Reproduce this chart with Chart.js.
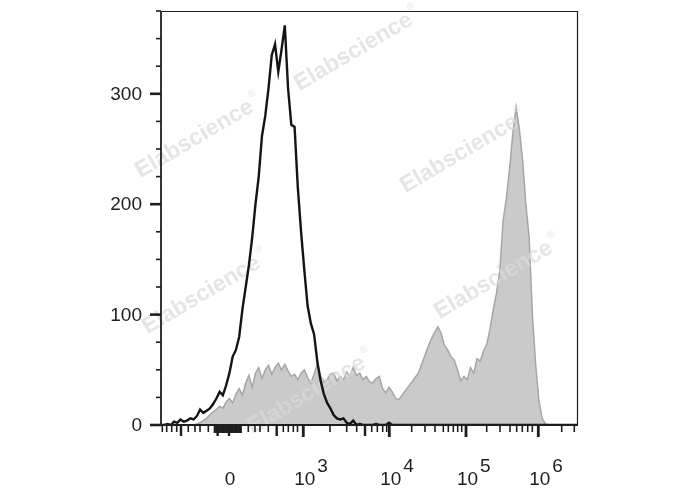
<!DOCTYPE html>
<html>
<head>
<meta charset="utf-8">
<script src="https://cdn.jsdelivr.net/npm/chart.js@4/dist/chart.umd.min.js"></script>
<style>
  body { margin: 0; background: #fff; }
  canvas { display: block; }
</style>
</head>
<body>
<canvas id="histChart" width="688" height="490"></canvas>
<script>
// histogram bins (display channels, 8 channels per bin)
const channels = [
  0, 8, 16, 24, 32, 40, 48, 56, 64, 72, 80, 88, 96, 104, 112, 120,
  128, 136, 144, 152, 160, 168, 176, 184, 192, 200, 208, 216, 224, 232, 240, 248,
  256, 264, 272, 280, 288, 296, 304, 312, 320, 328, 336, 344, 352, 360, 368, 376,
  384, 392, 400, 408, 416, 424, 432, 440, 448, 456, 464, 472, 480, 488, 496, 504,
  512, 520, 528, 536, 544, 552, 560, 568, 576, 584, 592, 600, 608, 616, 624, 632,
  640, 648, 656, 664, 672, 680, 688, 696, 704, 712, 720, 728, 736, 744, 752, 760,
  768, 776, 784, 792, 800, 808, 816, 824, 832, 840, 848, 856, 864, 872, 880, 888,
  896, 904, 912, 920, 928, 936, 944, 952, 960, 968, 976, 984, 992, 1000, 1008, 1016,
  1024
];

// isotype control (black outline)
const isotypeCounts = [
  0, 0, 1, 0, 3, 2, 5, 3, 4, 6,
  5, 8, 14, 11, 13, 15, 19, 24, 30, 27,
  36, 47, 62, 68, 80, 105, 125, 145, 170, 200,
  225, 262, 280, 305, 335, 345, 320, 340, 362, 305,
  272, 270, 215, 175, 140, 108, 92, 82, 57, 40,
  28, 20, 15, 9, 6, 5, 6, 2, 1, 4,
  0, 1, 0, 0, 0, 0, 1, 0, 0, 0,
  2, 0, 0, 0, 0, 0, 0, 0, 0, 0,
  0, 0, 0, 0, 0, 0, 0, 0, 0, 0,
  0, 0, 0, 0, 0, 0, 0, 0, 0, 0,
  0, 0, 0, 0, 0, 0, 0, 0, 0, 0,
  0, 0, 0, 0, 0, 0, 0, 0, 0, 0,
  0, 0, 0, 0, 0, 0, 0, 0, 0
];

// stained sample (grey filled)
const stainedCounts = [
  0, 0, 0, 0, 0, 0, 0, 0, 0, 0,
  0, 1, 2, 4, 6, 9, 12, 14, 17, 15,
  21, 24, 20, 28, 33, 27, 38, 45, 34, 47,
  52, 42, 50, 54, 46, 52, 56, 50, 55, 49,
  44, 46, 41, 47, 50, 43, 38, 46, 56, 44,
  39, 41, 46, 47, 40, 44, 41, 48, 44, 52,
  45, 47, 41, 44, 39, 38, 42, 44, 33, 29,
  34, 30, 24, 23, 27, 31, 35, 39, 43, 47,
  55, 63, 71, 78, 84, 89, 83, 72, 68, 62,
  59, 50, 40, 44, 41, 52, 47, 60, 58, 67,
  73, 87, 105, 120, 140, 185, 205, 232, 264, 288,
  268, 240, 200, 170, 100, 55, 22, 6, 1, 0,
  0, 0, 0, 0, 0, 0, 0, 0, 0
];

// x axis: labelled ticks (channel position, base, exponent)
const xLabelChannels = [166, 349.4, 560.6, 749, 926.5];
const xLabelBases = ["0", "10", "10", "10", "10"];
const xLabelExps = ["", "3", "4", "5", "6"];

// x axis tick marks (channel positions)
const xMajorTicks = [349.4, 560.6, 749, 926.5];
const xMediumTicks = [49.1, 139, 167, 284.1, 501];
const xMinorTicks = [
  3.2, 14, 26.3, 38.6, 67, 83.5, 95.8, 116.2,
  214.4, 230.8, 243.1, 263.5, 300.3, 312.6, 324.9, 335.2,
  415, 456, 480.6, 517.4, 531.2, 544.4, 554.2,
  615.6, 648.3, 672.8, 693.2, 705.5, 717.8, 728.6, 738.4,
  799.8, 832.5, 857, 873.5, 887.2, 900.5, 911.8,
  984, 1014.9
];
const xDenseTicks = [
  132, 136, 140, 144, 148, 152, 156, 160, 164, 168,
  172, 176, 180, 184, 188, 192, 196
];

// y axis
const yLabels = [0, 100, 200, 300];
const yMinorTicks = [25, 50, 75, 125, 150, 175, 225, 250, 275, 325, 350, 375];

const FONT = "'Liberation Sans', Arial, Helvetica, sans-serif";

// watermark drawn after the grey fill, below the black outline
const watermarkPlugin = {
  id: "watermark",
  afterDatasetDraw(chart, args) {
    if (args.index !== 1) return;
    const ctx = chart.ctx;
    const spots = [
      [198, 137], [357, 50], [463, 152],
      [205, 293], [497, 278], [310, 393]
    ];
    ctx.save();
    spots.forEach(([cx, cy]) => {
      ctx.save();
      ctx.translate(cx, cy);
      ctx.rotate(-30.5 * Math.PI / 180);
      ctx.fillStyle = "rgba(218, 218, 218, 0.7)";
      ctx.font = "bold 23px " + FONT;
      ctx.textAlign = "center";
      ctx.textBaseline = "middle";
      ctx.fillText("Elabscience", -4, 0);
      const w = ctx.measureText("Elabscience").width;
      ctx.font = "10px " + FONT;
      ctx.textAlign = "left";
      ctx.fillText("®", w / 2 - 2, -10);
      ctx.restore();
    });
    ctx.restore();
  },
};

// axes, ticks and labels
const axesPlugin = {
  id: "flowAxes",
  afterDatasetsDraw(chart) {
    const ctx = chart.ctx;
    const area = chart.chartArea;
    const xs = chart.scales.x;
    const ys = chart.scales.y;
    const y0 = ys.getPixelForValue(0);

    ctx.save();
    ctx.strokeStyle = "#1e1e1e";

    // frame
    ctx.lineWidth = 1.2;
    ctx.beginPath();
    ctx.moveTo(area.left, area.top + 0.5);
    ctx.lineTo(area.right - 0.5, area.top + 0.5);
    ctx.lineTo(area.right - 0.5, y0);
    ctx.stroke();

    // left axis
    ctx.lineWidth = 1.8;
    ctx.beginPath();
    ctx.moveTo(area.left, area.top);
    ctx.lineTo(area.left, y0);
    ctx.stroke();

    // bottom axis
    ctx.lineWidth = 2.2;
    ctx.beginPath();
    ctx.moveTo(area.left - 11, y0);
    ctx.lineTo(area.right, y0);
    ctx.stroke();

    // y ticks
    yLabels.forEach((v) => {
      const py = ys.getPixelForValue(v);
      ctx.lineWidth = 2.6;
      ctx.beginPath();
      ctx.moveTo(area.left - 11, py);
      ctx.lineTo(area.left, py);
      ctx.stroke();
    });
    yMinorTicks.forEach((v) => {
      const py = ys.getPixelForValue(v);
      ctx.lineWidth = 1.6;
      ctx.beginPath();
      ctx.moveTo(area.left - 5, py);
      ctx.lineTo(area.left, py);
      ctx.stroke();
    });

    // x ticks
    const xTick = (list, len, width) => {
      ctx.lineWidth = width;
      list.forEach((c) => {
        const px = xs.getPixelForValue(c);
        ctx.beginPath();
        ctx.moveTo(px, y0);
        ctx.lineTo(px, y0 + len);
        ctx.stroke();
      });
    };
    xTick(xMinorTicks, 7, 1.6);
    xTick(xDenseTicks, 8, 2.2);
    xTick(xMediumTicks, 11, 2.4);
    xTick(xMajorTicks, 12, 2.8);

    // labels
    ctx.fillStyle = "#1f1f1f";
    ctx.font = "19px " + FONT;
    ctx.textAlign = "right";
    ctx.textBaseline = "middle";
    yLabels.forEach((v) => {
      ctx.fillText(String(v), area.left - 19, ys.getPixelForValue(v) + 1);
    });

    ctx.textBaseline = "alphabetic";
    xLabelChannels.forEach((c, i) => {
      const px = xs.getPixelForValue(c) + 1.5;
      const base = xLabelBases[i];
      const exp = xLabelExps[i];
      ctx.textAlign = "center";
      ctx.fillText(base, px, 485);
      if (exp) {
        const bw = ctx.measureText(base).width;
        ctx.textAlign = "left";
        ctx.fillText(exp, px + bw / 2 + 2, 471.5);
      }
    });
    ctx.restore();
  },
};

const ctx = document.getElementById("histChart").getContext("2d");

const chart = new Chart(ctx, {
  type: "line",
  data: {
    datasets: [
      {
        label: "Isotype control",
        data: channels.map((c, i) => ({ x: c, y: isotypeCounts[i] })),
        borderColor: "#141414",
        borderWidth: 2.4,
        pointRadius: 0,
        fill: false,
        tension: 0,
        order: 0,
      },
      {
        label: "Stained",
        data: channels.map((c, i) => ({ x: c, y: stainedCounts[i] })),
        borderColor: "#a6a6a6",
        backgroundColor: "#cacaca",
        borderWidth: 1.5,
        pointRadius: 0,
        fill: "origin",
        tension: 0,
        order: 1,
      },
    ],
  },
  options: {
    responsive: false,
    animation: false,
    layout: {
      padding: { left: 161, top: 11, right: 110, bottom: 65 },
    },
    plugins: {
      legend: { display: false },
      tooltip: { enabled: false },
    },
    scales: {
      x: { type: "linear", min: 0, max: 1024, display: false },
      y: { min: 0, max: 375, display: false },
    },
  },
  plugins: [watermarkPlugin, axesPlugin],
});
</script>
</body>
</html>
